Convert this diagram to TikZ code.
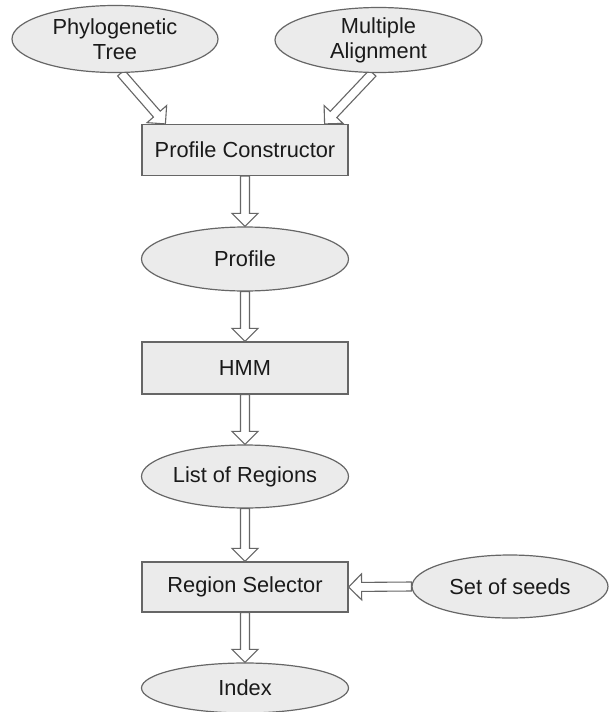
\documentclass[tikz,border=0pt]{standalone}
\usepackage{fontspec}
\setmainfont{Liberation Sans}
\usetikzlibrary{shapes.geometric,calc}
\pgfdeclarelayer{bg}
\pgfsetlayers{bg,main}
\definecolor{linec}{HTML}{666666}
\definecolor{boxfill}{HTML}{EBEBEB}
\definecolor{txt}{HTML}{1A1A1A}
\tikzset{
  base/.style={draw=linec, fill=boxfill, line width=1.2pt, inner sep=0pt, text=txt,
    font=\fontsize{21.8}{25}\selectfont, align=center},
  oval/.style={base, ellipse, minimum width=207pt, minimum height=64pt},
  stepbox/.style={base, rectangle, minimum width=206pt, minimum height=51pt},
  barrow/.style={draw=linec, fill=white, line width=1.1pt, line join=miter}
}
\newcommand\blockarrow[2]{%
  \coordinate (ba-b) at ($(#2)!13pt!(#1)$);
  \draw[barrow] ($(#1)!4.5pt!90:(#2)$) -- ($(ba-b)!4.5pt!90:(#2)$) -- ($(ba-b)!13pt!90:(#2)$)
    -- (#2) -- ($(ba-b)!13pt!-90:(#2)$) -- ($(ba-b)!4.5pt!-90:(#2)$) -- ($(#1)!4.5pt!-90:(#2)$) -- cycle;
}
\begin{document}
\begin{tikzpicture}[x=1pt, y=-1pt]
\begin{pgfonlayer}{bg}
\fill[white] (0,0) rectangle (609,712);
\end{pgfonlayer}
\useasboundingbox (0,0) rectangle (609,712);
\node[oval, minimum width=206pt, minimum height=67pt] (phy) at (115,39) {Phylogenetic\\Tree};
\node[oval, minimum height=65pt] (ma) at (378.5,40) {Multiple\\Alignment};
\node[stepbox] (pc) at (245,150) {Profile Constructor};
\node[oval] (prof) at (245,259) {Profile};
\node[stepbox, minimum height=52pt] (hmm) at (245,368) {HMM};
\node[oval, minimum height=63pt] (lor) at (245,476.5) {List of Regions};
\node[stepbox, minimum height=50pt] (rs) at (245,587) {Region Selector};
\node[oval, minimum width=196pt, minimum height=63pt] (seeds) at (510,586.5) {Set of seeds};
\node[oval, minimum height=50pt] (idx) at (245,688) {Index};
\coordinate (t1) at ([xshift=24pt]pc.north west);
\coordinate (t2) at ([xshift=-24pt]pc.north east);
\begin{pgfonlayer}{bg}
\blockarrow{phy.-80}{t1}
\blockarrow{ma.-100}{t2}
\end{pgfonlayer}
\blockarrow{pc.south}{prof.north}
\blockarrow{prof.south}{hmm.north}
\blockarrow{hmm.south}{lor.north}
\blockarrow{lor.south}{rs.north}
\blockarrow{rs.south}{idx.north}
\blockarrow{seeds.west}{rs.east}
\end{tikzpicture}
\end{document}
